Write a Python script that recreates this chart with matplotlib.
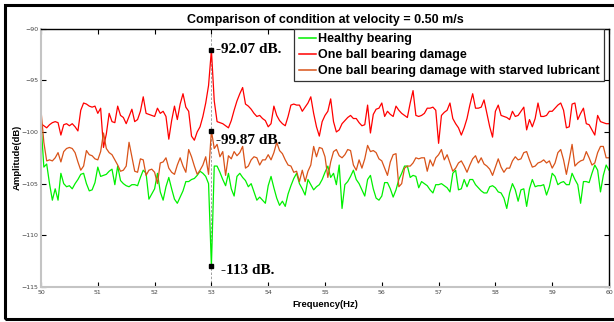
import numpy as np
import matplotlib
matplotlib.use('Agg')
import matplotlib.pyplot as plt
from matplotlib.patches import Rectangle

# frequency axis, 0.05 Hz steps from 50 to 60 Hz
freq = np.linspace(50, 60, 201)

healthy = [
    -99.1, -103.4, -103.1, -105.0, -106.6, -105.5, -106.6, -104.0, -105.0, -105.3,
    -105.2, -105.5, -105.0, -104.6, -104.1, -104.0, -105.0, -105.7, -105.6, -104.9,
    -103.4, -104.3, -104.2, -104.1, -103.8, -103.6, -105.1, -103.3, -104.7, -105.0,
    -105.2, -105.3, -105.1, -105.1, -105.2, -104.4, -103.7, -104.0, -106.5, -106.0,
    -105.5, -104.0, -105.8, -106.6, -105.3, -104.4, -105.5, -106.5, -106.9, -106.3,
    -105.7, -104.8, -104.8, -104.6, -104.5, -104.2, -103.8, -104.0, -104.3, -105.0,
    -113.0, -103.3, -103.3, -103.9, -104.6, -105.2, -104.0, -105.5, -106.2, -104.3,
    -104.0, -104.4, -104.7, -105.3, -105.0, -105.8, -106.6, -106.3, -106.6, -106.9,
    -105.2, -104.3, -105.4, -106.4, -107.1, -106.7, -107.2, -106.0, -105.2, -104.5,
    -104.0, -105.0, -105.5, -106.1, -104.6, -105.1, -105.6, -105.3, -105.1, -104.6,
    -103.9, -103.3, -104.4, -104.0, -105.1, -103.2, -107.4, -105.1, -104.8, -104.3,
    -103.7, -104.6, -105.0, -105.6, -106.2, -104.6, -104.2, -105.5, -106.4, -106.6,
    -106.2, -104.9, -104.9, -105.5, -106.3, -105.6, -104.6, -104.0, -103.3, -103.3,
    -104.4, -104.2, -104.3, -105.4, -104.8, -105.0, -105.2, -105.6, -105.9, -105.1,
    -105.1, -105.0, -105.2, -105.4, -105.8, -104.0, -103.7, -105.6, -105.5, -104.6,
    -105.3, -104.6, -104.6, -105.1, -105.4, -105.7, -105.9, -105.9, -105.3, -105.2,
    -105.4, -105.8, -105.9, -106.4, -107.4, -105.9, -105.0, -105.6, -106.7, -105.6,
    -105.5, -107.2, -105.5, -104.6, -105.3, -105.2, -105.2, -105.1, -106.1, -105.3,
    -104.0, -104.3, -105.1, -104.9, -104.8, -105.1, -105.1, -104.0, -104.6, -105.1,
    -106.9, -104.8, -104.8, -104.9, -104.0, -103.2, -103.7, -105.8, -104.2, -103.2, -103.7,
]

one_ball = [
    -99.2, -99.4, -99.6, -99.3, -99.1, -99.0, -99.1, -100.3, -99.3, -99.2,
    -99.4, -99.2, -99.5, -99.9, -97.9, -97.2, -97.3, -97.5, -97.6, -97.5,
    -98.2, -97.7, -101.5, -100.2, -98.2, -99.0, -99.1, -97.5, -98.4, -98.6,
    -99.2, -98.5, -97.8, -99.0, -98.8, -98.0, -96.6, -98.2, -98.3, -98.4,
    -98.5, -97.7, -98.2, -98.0, -98.5, -100.7, -98.9, -97.5, -98.8, -97.3,
    -96.3, -97.6, -98.0, -100.4, -100.8, -100.0, -99.5, -98.5, -97.2, -95.5,
    -92.07, -97.0, -99.0, -99.1, -99.2, -99.4, -99.6, -98.9, -97.9, -97.0,
    -96.3, -95.7, -97.3, -97.5, -97.8, -98.2, -98.5, -98.4, -98.7, -98.9,
    -99.5, -99.2, -97.5, -98.4, -98.9, -99.2, -99.4, -98.5, -97.4, -97.3,
    -97.4, -97.4, -98.0, -97.6, -97.2, -96.6, -98.2, -99.5, -100.4, -99.0,
    -98.4, -98.0, -96.8, -99.0, -100.0, -99.8, -99.2, -98.9, -98.6, -98.4,
    -98.7, -98.7, -99.1, -99.4, -99.3, -97.4, -100.1, -98.3, -97.8, -97.7,
    -97.2, -98.5, -98.0, -98.3, -98.5, -97.5, -97.9, -98.2, -98.4, -98.6,
    -97.2, -96.0, -98.4, -98.5, -98.4, -98.2, -97.7, -97.7, -97.6, -97.9,
    -101.1, -98.4, -98.1, -97.9, -97.2, -98.7, -99.2, -99.6, -100.3, -99.6,
    -98.7, -97.4, -96.3, -97.7, -97.7, -97.6, -96.9, -98.2, -99.5, -100.5,
    -98.0, -97.4, -98.4, -98.5, -98.6, -98.8, -98.0, -98.5, -98.4, -98.0,
    -97.6, -99.8, -98.8, -99.5, -98.7, -97.2, -98.5, -98.5, -98.4, -98.0,
    -98.0, -97.7, -97.4, -97.2, -97.9, -99.6, -99.5, -97.3, -97.2, -98.8,
    -98.2, -97.7, -99.2, -99.3, -99.8, -100.3, -98.4, -99.0, -99.1, -99.2, -99.2,
]

starved = [
    -97.9, -101.0, -102.8, -102.7, -102.8, -102.5, -102.0, -102.9, -101.9, -101.6,
    -101.5, -101.6, -102.0, -102.9, -103.7, -103.3, -101.8, -102.2, -102.3, -102.6,
    -102.7, -101.9, -100.1, -101.6, -102.0, -102.2, -102.7, -103.2, -103.8, -103.7,
    -103.3, -101.0, -102.4, -103.8, -103.9, -102.6, -102.7, -104.2, -103.7, -103.6,
    -103.9, -105.0, -103.0, -102.9, -102.5, -103.5, -103.9, -104.1, -103.2, -102.5,
    -103.3, -103.9, -101.7, -102.4, -103.3, -104.1, -103.7, -103.2, -102.4, -104.1,
    -99.87, -101.6, -101.2, -102.4, -101.9, -104.2, -102.3, -102.6, -101.9, -102.3,
    -102.0, -101.4, -103.5, -103.3, -102.7, -102.4, -102.5, -103.2, -102.7, -102.7,
    -102.2, -102.7, -102.0, -101.0, -101.8, -102.1, -102.7, -103.2, -103.3, -103.9,
    -103.8, -104.8, -103.7, -104.8, -103.8, -103.2, -101.4, -102.4, -101.5, -101.6,
    -102.4, -104.4, -102.9, -101.9, -101.7, -102.3, -102.5, -102.2, -101.7, -101.8,
    -103.2, -103.7, -102.7, -103.5, -102.6, -101.3, -101.9, -101.8, -102.0, -102.6,
    -102.8, -103.5, -104.2, -102.9, -102.2, -102.1, -105.3, -105.0, -103.5, -103.3,
    -103.3, -103.0, -102.5, -102.6, -102.5, -102.5, -103.8, -102.7, -103.3, -102.5,
    -102.2, -101.7, -102.7, -102.2, -103.0, -103.8, -103.5, -103.0, -102.8, -103.3,
    -103.9, -103.2, -102.6, -102.3, -103.0, -102.5, -103.1, -103.3, -103.6, -104.2,
    -103.4, -102.6, -103.4, -103.9, -103.5, -103.5, -102.8, -102.4, -102.7, -102.6,
    -102.0, -101.9, -102.7, -103.4, -103.3, -103.0, -102.9, -102.7, -103.0, -102.8,
    -103.5, -103.0, -102.0, -101.7, -102.7, -104.1, -102.7, -101.2, -103.3, -103.0,
    -102.8, -102.7, -101.9, -102.5, -103.2, -103.0, -102.0, -101.4, -101.4, -102.5, -102.5,
]

labels = ['Healthy bearing', 'One ball bearing damage',
          'One ball bearing damage with starved lubricant']
colors = ['#00f000', '#ff0000', '#d95319']

# data tips at 53 Hz
tip_x = 53
tip_y = [-92.07, -99.87, -113]
tip_text = ['-92.07 dB.', '-99.87 dB.', '-113 dB.']
tip_offset = [(3.5, 0), (3.5, -7), (7, -3)]

fig = plt.figure(figsize=(6.14, 3.22), dpi=100)
ax = fig.add_axes([41/614, 1 - 287/322, 568/614, 258.4/322])

ax.plot(freq, healthy, color=colors[0], lw=0.9, label=labels[0])
ax.plot(freq, one_ball, color=colors[1], lw=0.9, label=labels[1])
ax.plot(freq, starved, color=colors[2], lw=0.9, label=labels[2])

ax.axvline(tip_x, color='#909090', lw=0.6, ls=(0, (3, 2)), zorder=1)
ax.plot([tip_x] * 3, tip_y, 's', color='black', ms=3, zorder=5)
for yv, txt, off in zip(tip_y, tip_text, tip_offset):
    ax.annotate(txt, (tip_x, yv), xytext=off, textcoords='offset points',
                ha='left', va='center', fontsize=11, fontweight='bold',
                family='Liberation Serif')

ax.set_xlim(50, 60)
ax.set_ylim(-115, -90)
ax.set_xticks(np.arange(50, 61, 1))
ax.set_yticks(np.arange(-115, -89, 5))
ax.tick_params(direction='in', length=3.5, width=0.8, top=True, right=True,
               labelsize=4.5, labelcolor='#444444', pad=2)
for s in ['left', 'bottom']:
    ax.spines[s].set_color('#c4c4c4')
    ax.spines[s].set_linewidth(1.5)
for s in ['top', 'right']:
    ax.spines[s].set_linewidth(1.0)

ax.set_title('Comparison of condition at velocity = 0.50 m/s', fontsize=9,
             fontweight='bold', family='Liberation Sans', pad=4)
ax.set_xlabel('Frequency(Hz)', fontsize=6.8, fontweight='bold',
              family='Liberation Sans', labelpad=4)
ax.set_ylabel('Amplitude(dB)', fontsize=6.8, fontweight='bold',
              family='Liberation Sans', labelpad=0)

leg = ax.legend(loc='upper right', bbox_to_anchor=(0.991, 1.0), borderaxespad=0,
                fancybox=False, framealpha=1, edgecolor='#333333',
                prop={'family': 'Liberation Sans', 'weight': 'bold', 'size': 9},
                handlelength=1.4, handletextpad=0.15, labelspacing=0.32,
                borderpad=0.35)
leg.get_frame().set_linewidth(0.9)
for ln in leg.get_lines():
    ln.set_linewidth(1.1)

# black frame round the figure
fig.add_artist(Rectangle((5/614, 1 - 319/322), 1.2, 314/322,
                         transform=fig.transFigure, fill=False,
                         edgecolor='black', lw=2.2))

fig.savefig('out.png', dpi=100)
